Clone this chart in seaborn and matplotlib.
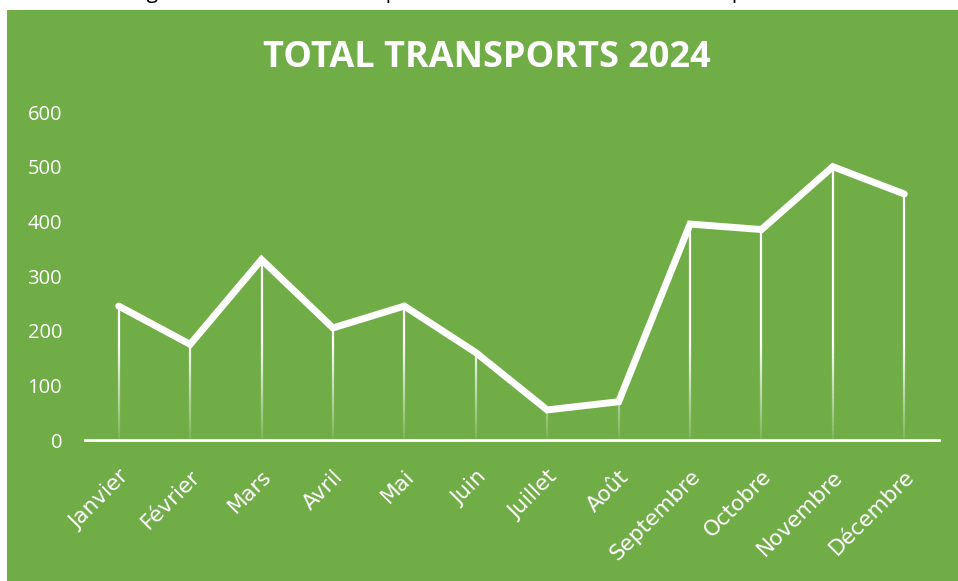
import numpy as np
import pandas as pd
import matplotlib.pyplot as plt
import seaborn as sns
from matplotlib.collections import LineCollection
from matplotlib.patches import Rectangle

# ====================================
# DONNEES
# ====================================

mois = ["Janvier", "Février", "Mars", "Avril", "Mai", "Juin",
        "Juillet", "Août", "Septembre", "Octobre", "Novembre", "Décembre"]
transports = [245, 175, 330, 205, 245, 160, 55, 70, 395, 385, 500, 450]
ticks_y = [0, 100, 200, 300, 400, 500, 600]

titre = "TOTAL TRANSPORTS 2024"
entete = "Le tableau général de tous les transports effectués au cours de l'année par"

df = pd.DataFrame({"Mois": mois, "Transports": transports})
df["x"] = range(len(df))

VERT = "#70AD47"
BLANC = "white"

# ====================================
# FIGURE
# ====================================

sns.set_theme(style="white")
plt.rcParams["font.family"] = ["Open Sans", "DejaVu Sans"]

fig = plt.figure(figsize=(9.58, 5.81), dpi=100)
fig.patch.set_facecolor("white")

# fond vert du graphique
fig.patches.append(Rectangle((7 / 958, 0), 1 - 7 / 958, (581 - 10) / 581,
                             transform=fig.transFigure, facecolor=VERT,
                             edgecolor="none", zorder=-5))

# texte coupé au-dessus (on ne voit que le bas des lettres)
fig.text(40 / 958, (581 + 2) / 581, entete, color="black", fontsize=15,
         ha="left", va="baseline", zorder=-4)

ax = fig.add_axes([83 / 958, (581 - 440) / 581, (940 - 83) / 958, (440 - 112) / 581])
ax.set_facecolor("none")
ax.set_zorder(2)

# lignes verticales avec dégradé
segments = []
couleurs = []
n = 60
for xi, v in zip(df["x"], df["Transports"]):
    ys = np.linspace(0, v, n + 1)
    for k in range(n):
        segments.append([(xi, ys[k]), (xi, ys[k + 1])])
        a = 0.08 + 0.92 * min(1.0, ys[k + 1] / 180)
        couleurs.append((1, 1, 1, a))
lc = LineCollection(segments, colors=couleurs, linewidths=1.6, zorder=2)
ax.add_collection(lc)

sns.lineplot(data=df, x="x", y="Transports", ax=ax, color=BLANC,
             linewidth=5, zorder=3, solid_capstyle="round",
             solid_joinstyle="miter")

ax.set_xlim(-0.5, 11.5)
ax.set_ylim(0, 600)
ax.set_xticks(df["x"])
ax.set_xticklabels(mois, rotation=45, ha="right", rotation_mode="anchor",
                   color=BLANC, fontsize=15.5, family=["DejaVu Sans"])
ax.set_yticks(ticks_y)
ax.set_yticklabels([str(t) for t in ticks_y], color=BLANC, fontsize=14.5)
ax.tick_params(axis="x", length=0, pad=19)
ax.tick_params(axis="y", length=0, pad=15)

ax.set_xlabel("")
ax.set_ylabel("")
for s in ["top", "right", "left"]:
    ax.spines[s].set_visible(False)
ax.spines["bottom"].set_color(BLANC)
ax.spines["bottom"].set_linewidth(2)
ax.spines["bottom"].set_bounds(-0.47, 11.48)

fig.text(487 / 958, (581 - 58) / 581, titre, color=BLANC, fontsize=26,
         fontweight="bold", ha="center", va="center")

fig.savefig("out.png", dpi=100, facecolor=fig.get_facecolor())
